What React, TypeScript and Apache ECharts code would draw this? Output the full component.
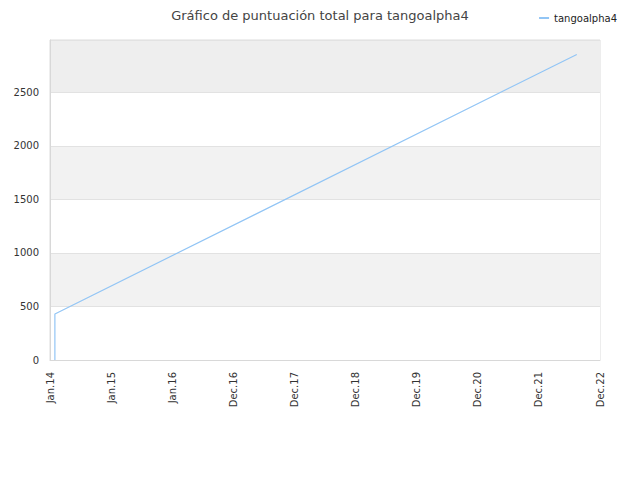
import { useEffect, useRef } from "react";
import * as echarts from "echarts";

// x positions are in "tick slots": 0 = Jan.14, 1 = Jan.15, ... 9 = Dec.22
const xLabels = ["Jan.14", "Jan.15", "Jan.16", "Dec.16", "Dec.17", "Dec.18", "Dec.19", "Dec.20", "Dec.21", "Dec.22"];
const scorePos = [0.08, 0.08, 8.62];
const scoreValues = [0, 430, 2855];
const yTicks = [0, 500, 1000, 1500, 2000, 2500];
const yMax = 2990;

const seriesName = "tangoalpha4";
const lineColor = "#92c5f5";
const font = "DejaVu Sans, sans-serif";

export default function App() {
  const chartRef = useRef<HTMLDivElement>(null);

  useEffect(() => {
    if (!chartRef.current) return;
    const chart = echarts.init(chartRef.current, null, { renderer: "svg" });

    const option: echarts.EChartsOption = {
      animation: false,
      backgroundColor: "#ffffff",
      textStyle: { fontFamily: font },
      title: {
        text: "Gráfico de puntuación total para tangoalpha4",
        left: "center",
        top: 4,
        textStyle: { fontSize: 13, fontWeight: "normal", color: "#444", fontFamily: font }
      },
      legend: {
        right: 18,
        top: 8,
        icon: "rect",
        itemWidth: 10,
        itemHeight: 2,
        itemGap: 6,
        textStyle: { fontSize: 10, color: "#222", fontFamily: font },
        data: [seriesName]
      },
      grid: {
        left: 50,
        right: 40,
        top: 40,
        bottom: 120,
        show: true,
        borderColor: "#dcdcdc",
        borderWidth: 1
      },
      xAxis: {
        type: "value",
        min: 0,
        max: xLabels.length - 1,
        interval: 1,
        axisLine: { show: true, lineStyle: { color: "#d8d8d8" } },
        axisTick: { show: false },
        splitLine: { show: false },
        axisLabel: {
          rotate: 90,
          fontSize: 10,
          color: "#333",
          fontFamily: font,
          margin: 12,
          formatter: (v: number) => xLabels[Math.round(v)] ?? ""
        }
      },
      yAxis: {
        type: "value",
        min: yTicks[0],
        max: yMax,
        interval: 500,
        axisLine: { show: true, lineStyle: { color: "#d8d8d8" } },
        axisTick: { show: false },
        axisLabel: {
          fontSize: 10,
          color: "#333",
          fontFamily: font,
          margin: 11,
          showMaxLabel: false,
          formatter: (v: number) => String(v)
        },
        splitLine: { show: true, lineStyle: { color: "#e2e2e2" } },
        splitArea: {
          show: true,
          areaStyle: { color: ["#ffffff", "#f2f2f2", "#ffffff", "#f2f2f2", "#ffffff", "#eeeeee"] }
        }
      },
      series: [
        {
          name: seriesName,
          type: "line",
          data: scorePos.map((x, i) => [x, scoreValues[i]]),
          showSymbol: false,
          lineStyle: { color: lineColor, width: 1.2 },
          itemStyle: { color: lineColor }
        }
      ]
    };

    chart.setOption(option);
    return () => chart.dispose();
  }, []);

  return <div ref={chartRef} style={{ width: 640, height: 480, margin: -8 }} />;
}
